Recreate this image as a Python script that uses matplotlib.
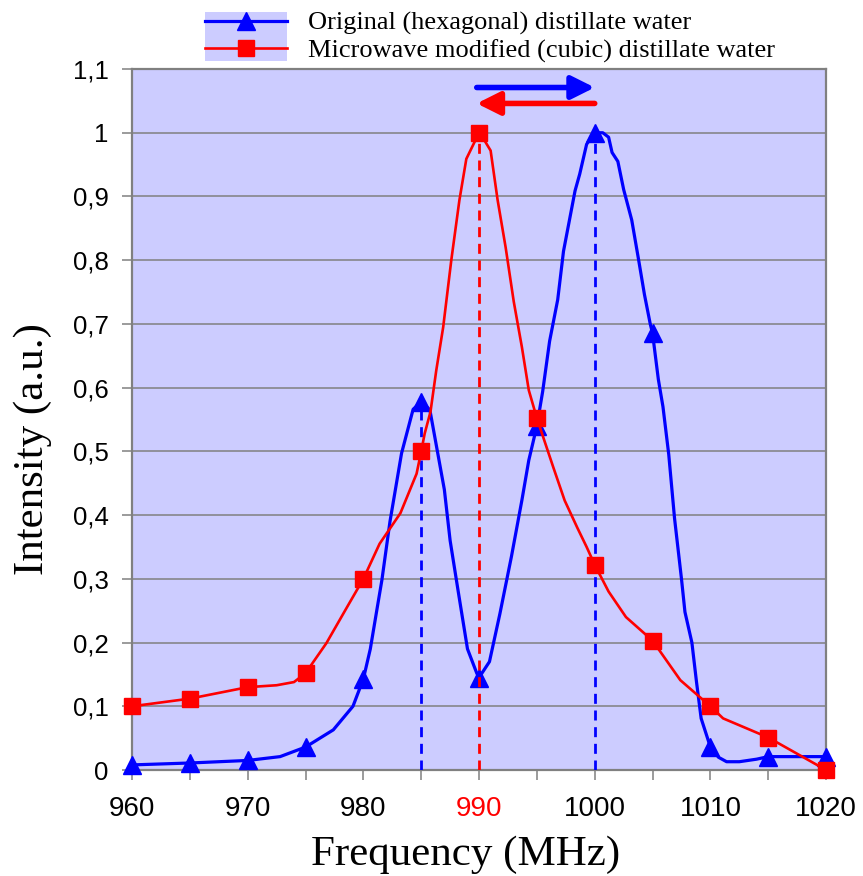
import matplotlib
matplotlib.use("Agg")
import matplotlib.pyplot as plt
from matplotlib.lines import Line2D
from matplotlib.patches import Rectangle

# ---------------- data ----------------
blue_curve_freq = [960, 965, 970, 972.8, 975, 977.4, 979.1, 980, 980.6, 981.2, 981.6, 982.3,
                   983.3, 984.3, 985, 985.75, 986.5, 987, 987.5, 988.2, 989, 989.8, 990,
                   990.9, 991.8, 992.8, 993.7, 994.3, 995, 995.5, 996.1, 996.8, 997.3,
                   998.3, 998.7, 999.3, 1000, 1000.7, 1001.2, 1001.5, 1002, 1002.5, 1003.2,
                   1003.8, 1004.3, 1004.8, 1005, 1005.5, 1005.9, 1006.4, 1006.9, 1007.5,
                   1007.8, 1008.4, 1008.8, 1009.2, 1010, 1010.7, 1011.4, 1012.5, 1014,
                   1015, 1020]
blue_curve_int = [0.008, 0.011, 0.015, 0.021, 0.036, 0.063, 0.10, 0.143, 0.19, 0.255, 0.298,
                  0.39, 0.497, 0.566, 0.578, 0.565, 0.49, 0.44, 0.36, 0.28, 0.19, 0.152, 0.145,
                  0.17, 0.245, 0.335, 0.423, 0.486, 0.54, 0.594, 0.673, 0.738, 0.814,
                  0.909, 0.935, 0.982, 1.0, 1.0, 0.993, 0.969, 0.955, 0.911, 0.863,
                  0.80, 0.746, 0.70, 0.685, 0.613, 0.57, 0.495, 0.395, 0.30,
                  0.248, 0.20, 0.138, 0.081, 0.036, 0.02, 0.013, 0.013, 0.017,
                  0.021, 0.021]

red_curve_freq = [960, 965, 970, 972.5, 974, 975, 976.8, 978.6, 980, 981.4, 983.2, 984.6,
                  985, 985.3, 985.8, 986.3, 986.9, 987.6, 988.3, 988.9, 990, 990.4, 991.0,
                  991.6, 992.3, 993, 993.7, 994.3, 995, 996.4, 997.4, 998.5, 999.3, 1000,
                  1001.2, 1002.7, 1005, 1007.4, 1010, 1011.1, 1015, 1020]
red_curve_int = [0.1, 0.112, 0.13, 0.133, 0.138, 0.152, 0.199, 0.256, 0.3, 0.355, 0.403, 0.465,
                 0.5, 0.528, 0.562, 0.627, 0.695, 0.80, 0.894, 0.959, 1.0, 0.99, 0.972,
                 0.895, 0.82, 0.735, 0.664, 0.596, 0.552, 0.476, 0.423, 0.38, 0.35, 0.322,
                 0.28, 0.24, 0.203, 0.141, 0.1, 0.081, 0.051, 0.0]

marker_freq = [960, 965, 970, 975, 980, 985, 990, 995, 1000, 1005, 1010, 1015, 1020]

peak_freq = [985, 990, 1000]
peak_top = [0.578, 1.0, 1.0]
peak_color = ["#0000ff", "#ff0000", "#0000ff"]

x_ticks = [960, 970, 980, 990, 1000, 1010, 1020]
x_minor_ticks = [965, 975, 985, 995, 1005, 1015]
x_tick_labels = ["960", "970", "980", "990", "1000", "1010", "1020"]
y_ticks = [0, 0.1, 0.2, 0.3, 0.4, 0.5, 0.6, 0.7, 0.8, 0.9, 1.0, 1.1]
y_tick_labels = ["0", "0,1", "0,2", "0,3", "0,4", "0,5", "0,6", "0,7", "0,8", "0,9", "1", "1,1"]

legend_labels = ["Original (hexagonal) distillate water",
                 "Microwave modified (cubic) distillate water"]

# ---------------- figure ----------------
BLUE = "#0000ff"
RED = "#ff0000"
BG = "#ccccff"
GRAY = "#808080"
SERIF = ["Liberation Serif", "DejaVu Serif"]
SANS = ["Liberation Sans", "DejaVu Sans"]

fig = plt.figure(figsize=(8.63, 8.76), dpi=100)
ax = fig.add_axes([0.1530, 0.1210, 0.8042, 0.8002])
ax.set_facecolor(BG)
ax.set_xlim(960, 1020)
ax.set_ylim(0, 1.1)

for y in y_ticks[1:-1]:
    ax.axhline(y, color=GRAY, lw=1.1, zorder=1)

blue_marks = [blue_curve_freq.index(f) for f in marker_freq]
red_marks = [red_curve_freq.index(f) for f in marker_freq]

ax.plot(blue_curve_freq, blue_curve_int, color=BLUE, lw=2.3, marker="^", markersize=13.5,
        markevery=blue_marks, zorder=3, clip_on=False)
ax.plot(red_curve_freq, red_curve_int, color=RED, lw=1.9, marker="s", markersize=12,
        markevery=red_marks, zorder=4, clip_on=False)

for f, top, c in zip(peak_freq, peak_top, peak_color):
    ax.plot([f, f], [0, top], color=c, lw=2.0, ls=(0, (3.6, 2.4)),
            zorder=5 if c == RED else 3.5)

# arrows
ax.annotate("", xy=(1000.0, 1.071), xytext=(989.8, 1.071),
            arrowprops=dict(arrowstyle="-|>,head_length=0.7,head_width=0.35",
                            color=BLUE, lw=4, shrinkA=0, shrinkB=0, mutation_scale=20))
ax.annotate("", xy=(989.8, 1.046), xytext=(1000.0, 1.046),
            arrowprops=dict(arrowstyle="-|>,head_length=0.7,head_width=0.35",
                            color=RED, lw=4, shrinkA=0, shrinkB=0, mutation_scale=20))

# axes styling
for s in ax.spines.values():
    s.set_color(GRAY)
    s.set_linewidth(1.6)

ax.set_xticks(x_ticks)
ax.set_xticks(x_minor_ticks, minor=True)
ax.set_xticklabels(x_tick_labels, family=SANS, fontsize=20)
ax.set_yticks(y_ticks)
ax.set_yticklabels(y_tick_labels, family=SANS, fontsize=18.5)
ax.tick_params(axis="x", which="both", direction="out", length=7, width=1.1,
               color=GRAY, pad=12)
ax.tick_params(axis="y", which="both", direction="out", length=7, width=1.1,
               color=GRAY, pad=10)
for lab in ax.get_xticklabels():
    if lab.get_text() == "990":
        lab.set_color(RED)

ax.set_xlabel("Frequency (MHz)", family=SERIF, fontsize=31)
ax.xaxis.set_label_coords(0.48, -0.094)
ax.set_ylabel("Intensity (a.u.)", family=SERIF, fontsize=31)
ax.yaxis.set_label_coords(-0.115, 0.458)

# legend
fig.patches.append(Rectangle((0.2375, 0.9304), 0.095, 0.056, transform=fig.transFigure,
                             facecolor=BG, edgecolor="none", zorder=0))
handles = [Line2D([], [], color=BLUE, lw=2.3, marker="^", markersize=13.5),
           Line2D([], [], color=RED, lw=1.9, marker="s", markersize=12)]
fig.legend(handles, legend_labels, loc="upper left", bbox_to_anchor=(0.2375, 0.987),
           frameon=False, prop={"family": SERIF, "size": 19}, handlelength=3.1,
           handletextpad=0.8, labelspacing=0.15, borderpad=0, borderaxespad=0)

fig.savefig("out.png", dpi=100)
